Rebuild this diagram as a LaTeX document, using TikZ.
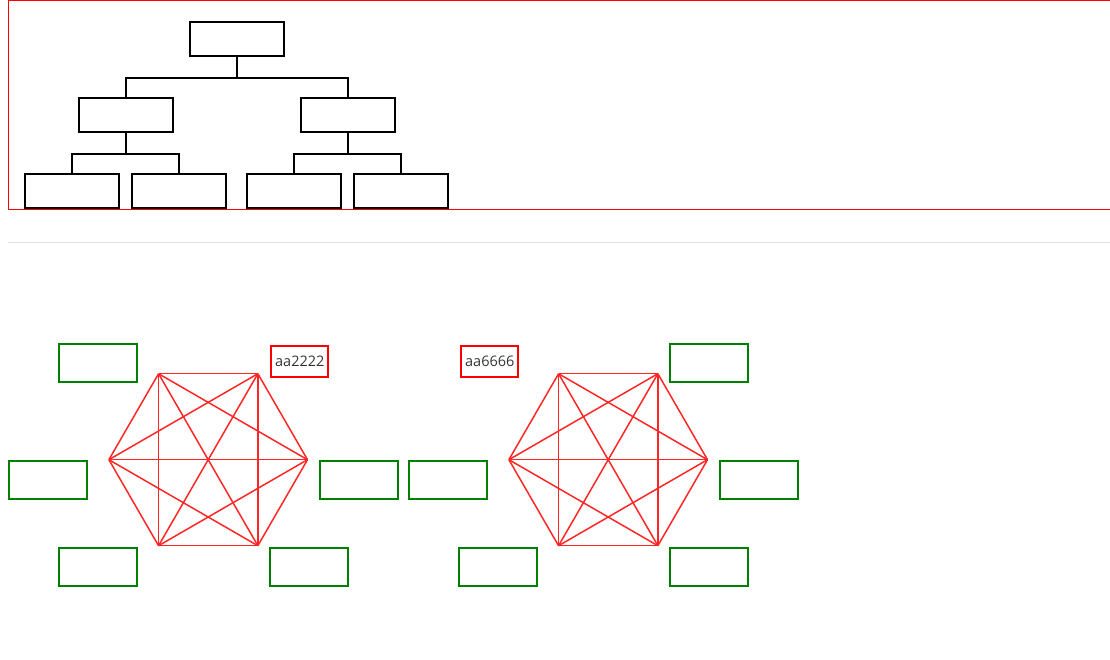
\documentclass[tikz,border=0pt]{standalone}
\usepackage{fontspec}
\setmainfont{Open Sans}
\usetikzlibrary{calc}
\definecolor{dgreen}{RGB}{0,128,0}
\definecolor{lgray}{RGB}{225,225,225}
\definecolor{txt}{RGB}{51,51,51}
\begin{document}
\begin{tikzpicture}[x=1pt,y=-1pt,
  treebox/.style={draw=black,line width=2pt,inner sep=0pt,minimum width=94pt,minimum height=34pt},
  gbox/.style={draw=dgreen,line width=2pt,inner sep=0pt,minimum width=78pt,minimum height=38pt},
  lbox/.style={draw=red,line width=2pt,inner sep=0pt,minimum width=57pt,minimum height=31pt,text=txt,font=\fontsize{14.5}{14.5}\selectfont},
  tline/.style={draw=black,line width=2pt},
  hline/.style={draw=red!85!white,line width=1.5pt}]
\useasboundingbox (0,0) rectangle (1110,660);
% frame
\draw[red,line width=1.5pt] (8.5,0) -- (8.5,209.5);
\draw[red,line width=1.5pt] (8,0.75) -- (1110,0.75);
\draw[red,line width=1.2pt] (8,209.5) -- (1110,209.5);
\draw[lgray,line width=1pt] (8,243) -- (1110,243);
% tree
\node[treebox] (root) at (236.5,39) {};
\node[treebox] (L) at (125.5,115) {};
\node[treebox] (R) at (347.5,115) {};
\node[treebox] (A) at (72.2,191) {};
\node[treebox] (B) at (178.5,191) {};
\node[treebox] (C) at (294.4,191) {};
\node[treebox] (D) at (400.5,191) {};
\coordinate (j1) at (236.5,78);
\coordinate (j2) at (125.5,154);
\coordinate (j3) at (347.5,154);
\draw[tline] (root.south) -- (j1);
\draw[tline] (L.north) |- (j1) -| (R.north);
\draw[tline] (L.south) -- (j2);
\draw[tline] (A.north) |- (j2) -| (B.north);
\draw[tline] (R.south) -- (j3);
\draw[tline] (C.north) |- (j3) -| (D.north);
% hexagons
\foreach \n/\cx in {1/208.2,2/608.2}{
  \foreach \k/\a in {1/0,2/60,3/120,4/180,5/240,6/300}{
    \coordinate (h\n-\k) at ({\cx+99.3*cos(\a)},{459.7+99.3*sin(\a)});
  }
}
\foreach \n in {1,2}{
  \foreach \i in {1,...,6}{
    \foreach \j in {1,...,6}{
      \ifnum\i<\j \draw[hline] (h\n-\i) -- (h\n-\j); \fi
    }
  }
}
% green boxes left group
\node[gbox] (g1a) at (98.3,363.2) {};
\node[gbox] (g1b) at (48.3,479.8) {};
\node[gbox] (g1c) at (358.5,479.8) {};
\node[gbox] (g1d) at (98.3,566.6) {};
\node[gbox] (g1e) at (308.6,566.6) {};
\node[lbox] (t1) at (299.8,361.2) {aa2222};
% right group
\node[gbox] (g2a) at (448.3,479.8) {};
\node[gbox] (g2b) at (708.6,363.2) {};
\node[gbox] (g2c) at (758.5,479.8) {};
\node[gbox] (g2d) at (498.3,566.6) {};
\node[gbox] (g2e) at (708.6,566.6) {};
\node[lbox] (t2) at (489.8,361.2) {aa6666};
\end{tikzpicture}
\end{document}
